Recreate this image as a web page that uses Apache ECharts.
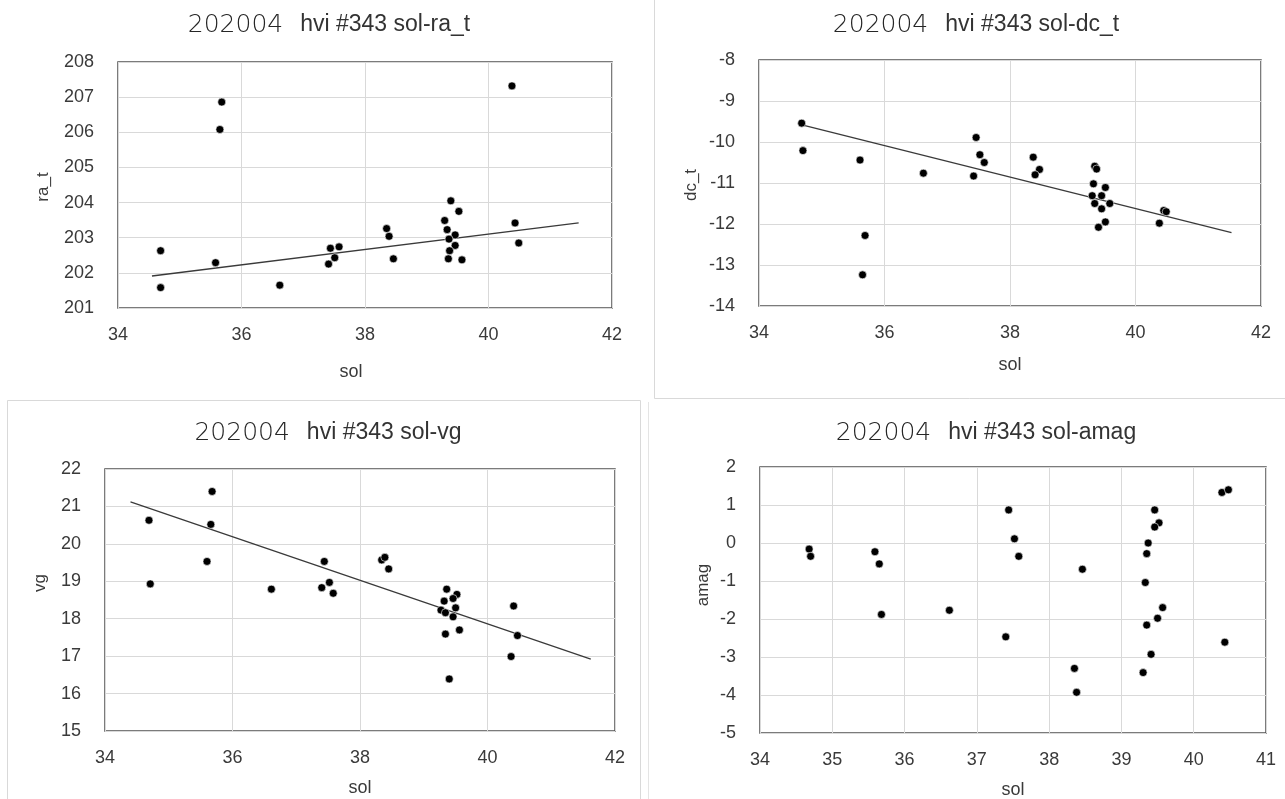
<!DOCTYPE html>
<html>
<head>
<meta charset="utf-8">
<title>202004 hvi #343</title>
<script src="https://cdn.jsdelivr.net/npm/echarts@6/dist/echarts.min.js"></script>
<style>
  html, body { margin: 0; padding: 0; background: #fff; }
  #chart { width: 1285px; height: 799px; }
</style>
</head>
<body>
<div id="chart"></div>
<script>
// sol vs ra_t
const solRa = [34.69, 34.69, 35.58, 35.68, 35.65, 36.62, 37.44, 37.58, 37.51, 37.41, 38.35, 38.39, 38.46,
  39.39, 39.52, 39.29, 39.33, 39.46, 39.36, 39.46, 39.37, 39.35, 39.57, 40.38, 40.43, 40.49];
const raT = [202.63, 201.58, 202.29, 206.86, 206.08, 201.65, 202.70, 202.74, 202.43, 202.25, 203.26, 203.04, 202.40,
  204.05, 203.75, 203.49, 203.23, 203.08, 202.96, 202.78, 202.63, 202.40, 202.37, 207.32, 203.42, 202.85];
const raTrendX = [34.55, 41.46];
const raTrendY = [201.91, 203.42];

// sol vs dc_t
const solDc = [34.68, 34.70, 35.61, 35.69, 35.65, 36.62, 37.46, 37.52, 37.59, 37.42, 38.37, 38.47, 38.40,
  39.35, 39.38, 39.33, 39.52, 39.31, 39.46, 39.35, 39.59, 39.46, 39.52, 39.41, 40.38, 40.45, 40.49];
const dcT = [-9.54, -10.21, -10.44, -12.28, -13.24, -10.76, -9.89, -10.31, -10.50, -10.83, -10.37, -10.67, -10.80,
  -10.59, -10.66, -11.02, -11.11, -11.31, -11.31, -11.50, -11.50, -11.63, -11.95, -12.08, -11.98, -11.67, -11.70];
const dcTrendX = [34.70, 41.53];
const dcTrendY = [-9.59, -12.21];

// sol vs vg
const solVg = [34.69, 34.71, 35.68, 35.66, 35.60, 36.61, 37.44, 37.40, 37.52, 37.58, 38.34, 38.39, 38.45,
  39.36, 39.52, 39.32, 39.46, 39.50, 39.27, 39.34, 39.46, 39.56, 39.34, 39.40, 40.41, 40.47, 40.37];
const vg = [20.63, 18.93, 21.40, 20.52, 19.53, 18.79, 19.53, 18.83, 18.97, 18.68, 19.57, 19.64, 19.33,
  18.79, 18.65, 18.47, 18.54, 18.29, 18.23, 18.16, 18.05, 17.70, 17.59, 16.39, 18.34, 17.55, 16.99];
const vgTrendX = [34.40, 41.62];
const vgTrendY = [21.12, 16.92];

// sol vs amag (no trendline)
const solAmag = [34.68, 34.70, 35.59, 35.65, 35.68, 36.62, 37.44, 37.52, 37.58, 37.40, 38.46, 38.35, 38.38,
  39.46, 39.52, 39.46, 39.37, 39.35, 39.33, 39.57, 39.50, 39.35, 39.41, 39.30, 40.39, 40.48, 40.43];
const amag = [-0.16, -0.35, -0.23, -0.55, -1.88, -1.77, 0.87, 0.11, -0.35, -2.47, -0.69, -3.30, -3.93,
  0.87, 0.53, 0.42, 0.00, -0.28, -1.04, -1.70, -1.98, -2.16, -2.93, -3.41, 1.33, 1.40, -2.61];

const titlePrefix = "202004";
const yNames = ["ra_t", "dc_t", "vg", "amag"];
const xName = "sol";

const zip = (xs, ys) => xs.map((x, i) => [x, ys[i]]);

const labelColor = "#3a3a3a";
const labelFont = "Liberation Sans";

// pixel layout of the 4 excel charts
const panels = [
  { left: 118, top: 62, width: 494, height: 246, titleX: 324, titleY: 6, nameX: 351, nameY: 372, yNameX: 43, yNameY: 187 },
  { left: 759, top: 60, width: 502, height: 246, titleX: 971, titleY: 6, nameX: 1010, nameY: 365, yNameX: 691, yNameY: 185 },
  { left: 105, top: 469, width: 510, height: 262, titleX: 323, titleY: 414, nameX: 360, nameY: 788, yNameX: 40, yNameY: 583 },
  { left: 760, top: 467, width: 506, height: 266, titleX: 981, titleY: 414, nameX: 1013, nameY: 790, yNameX: 703, yNameY: 585 }
];

const xRanges = [[34, 42, 2], [34, 42, 2], [34, 42, 2], [34, 41, 1]];
const yRanges = [[201, 208, 1], [-14, -8, 1], [15, 22, 1], [-5, 2, 1]];

const option = {
  animation: false,
  backgroundColor: "#fff",
  title: panels.map((p, i) => ({
    text: "{a|" + titlePrefix + "}{b|hvi #343 sol-" + yNames[i] + "}",
    left: p.titleX,
    top: p.titleY,
    textAlign: "center",
    textStyle: {
      fontWeight: "normal",
      rich: {
        a: { fontFamily: "DejaVu Sans", fontWeight: 200, fontSize: 25, color: "#262626", padding: [0, 17, 0, 0], lineHeight: 28 },
        b: { fontFamily: "Liberation Sans", fontWeight: "normal", fontSize: 23, color: "#333", lineHeight: 28 }
      }
    }
  })),
  grid: panels.map((p) => ({
    left: p.left,
    top: p.top,
    width: p.width,
    height: p.height,
    show: true,
    backgroundColor: "#fff",
    borderColor: "#505050",
    borderWidth: 1.5,
    containLabel: false
  })),
  xAxis: panels.map((p, i) => ({
    type: "value",
    gridIndex: i,
    min: xRanges[i][0],
    max: xRanges[i][1],
    interval: xRanges[i][2],
    axisLine: { show: false },
    axisTick: { show: false },
    splitLine: { show: true, lineStyle: { color: "#d9d9d9", width: 1 } },
    axisLabel: { color: labelColor, fontFamily: labelFont, fontSize: 18, margin: 18 }
  })),
  yAxis: panels.map((p, i) => ({
    type: "value",
    gridIndex: i,
    min: yRanges[i][0],
    max: yRanges[i][1],
    interval: yRanges[i][2],
    axisLine: { show: false },
    axisTick: { show: false },
    splitLine: { show: true, lineStyle: { color: "#d9d9d9", width: 1 } },
    axisLabel: { color: labelColor, fontFamily: labelFont, fontSize: 18, margin: 24 }
  })),
  graphic: [
    // light frames of the chart objects
    { type: "polyline", z: -1, shape: { points: [[654.5, 0], [654.5, 398.5], [1285, 398.5]] }, style: { stroke: "#d9d9d9", fill: null, lineWidth: 1 } },
    { type: "polyline", z: -1, shape: { points: [[7.5, 799], [7.5, 400.5], [640.5, 400.5], [640.5, 799]] }, style: { stroke: "#d9d9d9", fill: null, lineWidth: 1 } },
    { type: "polyline", z: -1, shape: { points: [[648.5, 402], [648.5, 799]] }, style: { stroke: "#e4e4e4", fill: null, lineWidth: 1 } },
    ...panels.map((p) => ({
      type: "text",
      x: p.nameX,
      y: p.nameY,
      style: { text: xName, fill: labelColor, font: "18px " + labelFont, align: "center", verticalAlign: "middle" }
    })),
    ...panels.map((p, i) => ({
      type: "text",
      x: p.yNameX,
      y: p.yNameY,
      rotation: Math.PI / 2,
      style: { text: yNames[i], fill: labelColor, font: "17px " + labelFont, align: "center", verticalAlign: "middle" }
    }))
  ],
  series: []
};

const scatterData = [zip(solRa, raT), zip(solDc, dcT), zip(solVg, vg), zip(solAmag, amag)];
const trendData = [zip(raTrendX, raTrendY), zip(dcTrendX, dcTrendY), zip(vgTrendX, vgTrendY), null];

scatterData.forEach((d, i) => {
  if (trendData[i]) {
    option.series.push({
      type: "line",
      xAxisIndex: i,
      yAxisIndex: i,
      data: trendData[i],
      showSymbol: false,
      lineStyle: { color: "#3a3a3a", width: 1.3 },
      z: 2
    });
  }
  option.series.push({
    type: "scatter",
    xAxisIndex: i,
    yAxisIndex: i,
    data: d,
    symbolSize: 8,
    itemStyle: { color: "#000", borderColor: "#fff", borderWidth: 0.6, opacity: 1 },
    z: 3
  });
});

const myChart = echarts.init(document.getElementById("chart"));
myChart.setOption(option);
</script>
</body>
</html>
